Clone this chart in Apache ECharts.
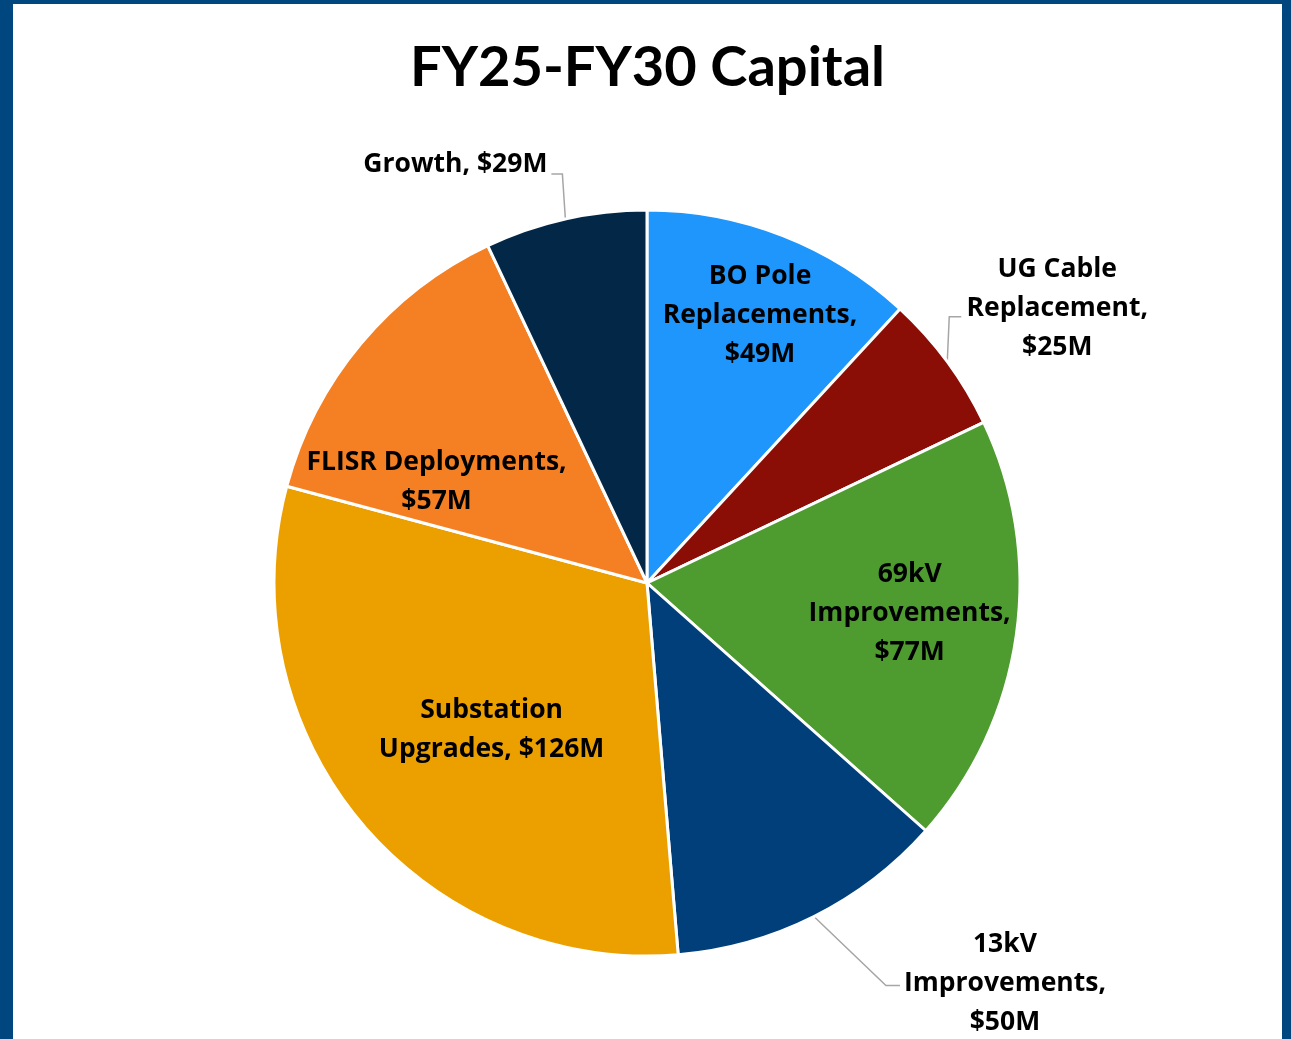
<!DOCTYPE html>
<html style="height: 100%">
<head>
	<meta charset="utf-8">
</head>
<body style="height: 100%; margin: 0; background-color: #fff;">
<div id="frame" style="position: absolute; left: 0; top: 0; width: 1291px; height: 1039px; box-sizing: border-box; border-top: 4px solid #00467F; border-left: 13px solid #00467F; border-right: 9px solid #00467F;">
	<div id="container" style="width: 100%; height: 100%"></div>
</div>
<script type="text/javascript" src="https://cdn.jsdelivr.net/npm/echarts@6/dist/echarts.min.js"></script>
<script type="text/javascript">
	var title = 'FY25-FY30 Capital';
	var categories = ['BO Pole\nReplacements', 'UG Cable\nReplacement', '69kV\nImprovements', '13kV\nImprovements', 'Substation\nUpgrades', 'FLISR Deployments', 'Growth'];
	var values = [49, 25, 77, 50, 126, 57, 29];
	var valueOnNewLine = [true, true, true, true, false, true, false];
	var colors = ['#1E96FC', '#8A0E06', '#4E9C30', '#003F7A', '#EBA000', '#F58024', '#032847'];

	// label placement (Excel style): inside = offset from default spot, outside = offset from slice edge
	var labelPlace = [
		{ inside: true, dx: 44, dy: -91 },
		{ inside: false, dx: 110, dy: -53, align: 'center', line: [[2, -45], [14, -45]] },
		{ inside: true, dx: 75, dy: 4 },
		{ inside: false, dx: 191, dy: 67, align: 'center', line: [[72, 69], [86, 69]] },
		{ inside: true, dx: -10, dy: 25 },
		{ inside: true, dx: -65, dy: 20 },
		{ inside: false, dx: -18, dy: -55, align: 'right', line: [[-3, -45], [-14, -45]] }
	];

	var dom = document.getElementById('container');
	var myChart = echarts.init(dom);

	var data = values.map(function (v, i) {
		var p = labelPlace[i];
		return {
			name: categories[i],
			value: v,
			itemStyle: { color: colors[i] },
			label: { position: p.inside ? 'inside' : 'outside' },
			labelLine: { show: !p.inside }
		};
	});

	var option = {
		animation: false,
		title: {
			text: title,
			left: 'center',
			top: 31,
			textStyle: {
				fontFamily: 'Lato',
				fontWeight: 'bold',
				fontSize: 56,
				color: '#000'
			}
		},
		series: [{
			type: 'pie',
			center: [634, 579],
			radius: 373,
			startAngle: 90,
			clockwise: true,
			avoidLabelOverlap: false,
			data: data,
			itemStyle: {
				borderColor: '#fff',
				borderWidth: 3
			},
			label: {
				fontFamily: 'Open Sans',
				fontWeight: 'bold',
				fontSize: 26.5,
				lineHeight: 39,
				color: '#000',
				align: 'center',
				formatter: function (p) {
					return p.name + ',' + (valueOnNewLine[p.dataIndex] ? '\n' : ' ') + '$' + p.value + 'M';
				}
			},
			labelLine: {
				length: 20,
				length2: 10,
				lineStyle: { color: '#A6A6A6', width: 1.5 }
			},
			labelLayout: function (params) {
				var p = labelPlace[params.dataIndex];
				var r = params.labelRect;
				if (p.inside) {
					return {
						x: r.x + r.width / 2 + p.dx,
						y: r.y + r.height / 2 + p.dy,
						align: 'center',
						verticalAlign: 'middle'
					};
				}
				var p0 = params.labelLinePoints[0];
				return {
					x: p0[0] + p.dx,
					y: p0[1] + p.dy,
					align: p.align,
					verticalAlign: 'middle',
					labelLinePoints: [
						[p0[0], p0[1]],
						[p0[0] + p.line[0][0], p0[1] + p.line[0][1]],
						[p0[0] + p.line[1][0], p0[1] + p.line[1][1]]
					]
				};
			}
		}]
	};
	myChart.setOption(option);
</script>
</body>
</html>
